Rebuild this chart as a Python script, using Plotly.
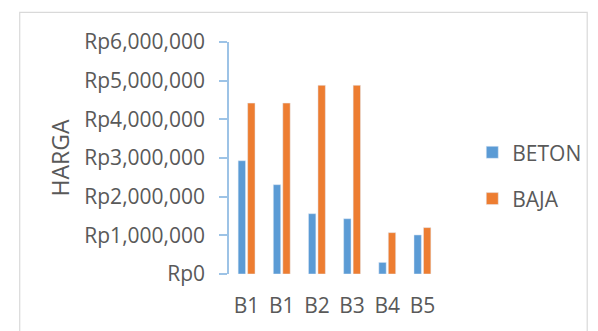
import plotly.graph_objects as go

categories = ["B1", "B1", "B2", "B3", "B4", "B5"]
beton = [2930000, 2310000, 1560000, 1430000, 300000, 1010000]
baja = [4420000, 4420000, 4880000, 4880000, 1070000, 1200000]
y_ticks = [0, 1000000, 2000000, 3000000, 4000000, 5000000, 6000000]
y_tick_labels = ["Rp0", "Rp1,000,000", "Rp2,000,000", "Rp3,000,000",
                 "Rp4,000,000", "Rp5,000,000", "Rp6,000,000"]

xpos = list(range(len(categories)))
FONT = "Open Sans"
TXT = "#595959"

fig = go.Figure()
fig.add_trace(go.Bar(x=xpos, y=beton, name="BETON", marker_color="#5b9bd5",
                     legendgroup="a", xaxis="x2"))
fig.add_trace(go.Bar(x=xpos, y=baja, name="BAJA", marker_color="#ed7d31",
                     legendgroup="b", xaxis="x2"))

W, H = 598, 331
L, R = 229, 449.3
T, B = 42.3, 275.7
pw = R - L
ph = B - T

fig.update_layout(
    width=W, height=H,
    margin=dict(l=L, r=W - R, t=T, b=H - B, pad=0),
    paper_bgcolor="white", plot_bgcolor="white",
    font=dict(family=FONT, size=21, color=TXT),
    bargap=0.46, bargroupgap=0.22,
    showlegend=True,
    legend=dict(x=(483 - L) / pw, y=(B - 133) / ph, xanchor="left", yanchor="top",
                traceorder="grouped", tracegroupgap=16,
                font=dict(family=FONT, size=21, color=TXT),
                bgcolor="rgba(0,0,0,0)"),
    xaxis=dict(range=[-0.5, 5.5], tickmode="array",
               tickvals=[i - 0.5 for i in range(len(categories) + 1)],
               ticktext=[""] * (len(categories) + 1),
               ticks="outside", ticklen=7, tickcolor="#d9d9d9", tickwidth=1.5,
               showline=True, linecolor="#d9d9d9", linewidth=1.5,
               showgrid=False, zeroline=False),
    xaxis2=dict(range=[-0.5, 5.5], overlaying="x", side="bottom",
                tickmode="array", tickvals=xpos, ticktext=categories,
                ticks="", showline=False, showgrid=False, zeroline=False,
                tickfont=dict(family=FONT, size=21, color=TXT),
                ticklabelstandoff=17),
    yaxis=dict(range=[0, 6000000], tickmode="array", tickvals=y_ticks,
               ticktext=y_tick_labels, ticks="outside", ticklen=8,
               tickcolor="#9dc3e6", tickwidth=1.5,
               showline=True, linecolor="#9dc3e6", linewidth=1.5,
               showgrid=False, zeroline=False,
               tickfont=dict(family=FONT, size=21, color=TXT),
               ticklabelstandoff=10,
               title=dict(text="HARGA", font=dict(family=FONT, size=23, color=TXT),
                          standoff=8)),
    shapes=[dict(type="rect", xref="paper", yref="paper",
                 x0=(10.5 - L) / pw, x1=(W + 5 - L) / pw,
                 y0=(B - (H + 5)) / ph, y1=(B - 12.5) / ph,
                 line=dict(color="#d9d9d9", width=1.2), layer="below")],
)

fig.write_html("out.html")
